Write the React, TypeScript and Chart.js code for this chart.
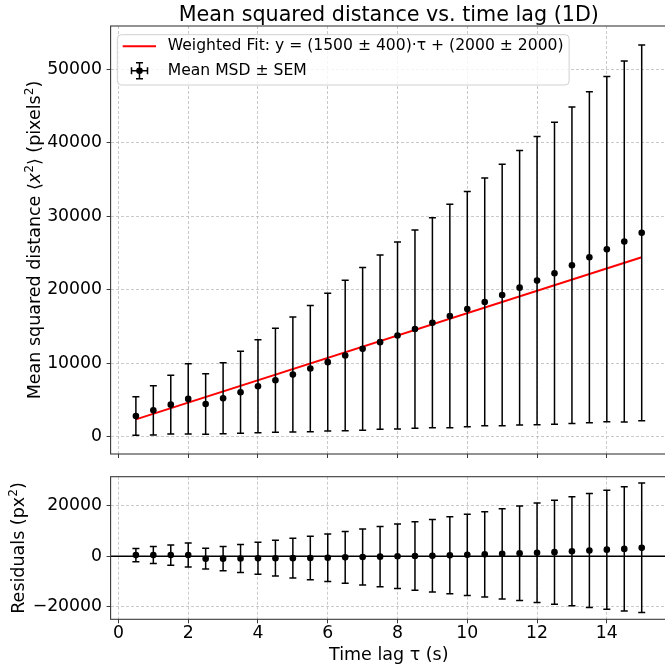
import React, { useEffect, useRef } from "react";
import { Chart, registerables } from "chart.js";

Chart.register(...registerables);

// ---------- data ----------
const tau = [0.5, 1.0, 1.5, 2.0, 2.5, 3.0, 3.5, 4.0, 4.5, 5.0, 5.5, 6.0, 6.5, 7.0, 7.5, 8.0, 8.5, 9.0, 9.5, 10.0, 10.5, 11.0, 11.5, 12.0, 12.5, 13.0, 13.5, 14.0, 14.5, 15.0];
const msdMean = [2820, 3590, 4360, 5140, 4450, 5230, 6050, 6860, 7680, 8450, 9270, 10140, 11050, 11950, 12860, 13770, 14640, 15500, 16410, 17360, 18320, 19270, 20270, 21230, 22230, 23320, 24410, 25500, 26550, 27730];
const msdSem = [2610, 3340, 4000, 4770, 4115, 4820, 5565, 6320, 7065, 7820, 8590, 9365, 10225, 11070, 11840, 12705, 13480, 14270, 15185, 16000, 16845, 17775, 18660, 19590, 20525, 21520, 22500, 23475, 24545, 25545];
const residuals = [460, 470, 480, 500, -950, -930, -870, -820, -760, -750, -690, -580, -430, -290, -140, 10, 120, 220, 370, 560, 760, 950, 1190, 1390, 1630, 1960, 2290, 2620, 2910, 3330];
const fitTau = [0.5, 15.0];
const fitValues = [2360, 24410];

const xTickValues = [0, 2, 4, 6, 8, 10, 12, 14];
const topYTickValues = [0, 10000, 20000, 30000, 40000, 50000];
const bottomYTickValues = [-20000, 0, 20000];

const titleText = "Mean squared distance vs. time lag (1D)";
const fitLabel = "Weighted Fit: y = (1500 \u00b1 400)\u00b7\u03c4 + (2000 \u00b1 2000)";
const dataLabel = "Mean MSD \u00b1 SEM";
const xLabel = "Time lag \u03c4 (s)";

// ---------- styling ----------
const FONT = '"DejaVu Sans", sans-serif';
const TICK_SIZE = 17.3;
const LABEL_SIZE = 17.5;
const TITLE_SIZE = 20.7;
const LEGEND_SIZE = 15.6;
const X_MIN = -0.225;
const X_MAX = 15.725;
const LEFT = 110.6;
const CANVAS_W = 675;
const RIGHT_PAD = CANVAS_W - 667;
const GRID_COLOR = "rgba(176,176,176,0.85)";
const SPINE_COLOR = "#3a3a3a";

type Seg = { t: string; italic?: boolean; sup?: boolean };

function fontFor(size: number, seg: Seg) {
  const s = seg.sup ? size * 0.7 : size;
  return `${seg.italic ? "oblique " : ""}${s}px ${FONT}`;
}

function drawRich(ctx: CanvasRenderingContext2D, segs: Seg[], x: number, y: number, size: number, rotate: boolean) {
  ctx.save();
  let total = 0;
  const widths = segs.map((s) => {
    ctx.font = fontFor(size, s);
    const w = ctx.measureText(s.t).width;
    total += w;
    return w;
  });
  ctx.translate(x, y);
  if (rotate) ctx.rotate(-Math.PI / 2);
  let cx = -total / 2;
  ctx.fillStyle = "#000";
  ctx.textBaseline = "alphabetic";
  ctx.textAlign = "left";
  segs.forEach((s, i) => {
    ctx.font = fontFor(size, s);
    ctx.fillText(s.t, cx, s.sup ? -size * 0.38 : 0);
    cx += widths[i];
  });
  ctx.restore();
}

const fmtTick = (v: number) => (v < 0 ? "\u2212" + Math.abs(v) : String(v));

function zeroPadding(s: any) {
  s.paddingTop = 0;
  s.paddingBottom = 0;
  s.paddingLeft = 0;
  s.paddingRight = 0;
}

function drawErrorBars(chart: any, means: number[], sems: number[]) {
  const { ctx, scales } = chart;
  const x = scales.x;
  const y = scales.y;
  ctx.save();
  ctx.strokeStyle = "#000";
  ctx.lineWidth = 1.5;
  tau.forEach((t, i) => {
    const px = x.getPixelForValue(t);
    const top = y.getPixelForValue(means[i] + sems[i]);
    const bot = y.getPixelForValue(means[i] - sems[i]);
    ctx.beginPath();
    ctx.moveTo(px, top);
    ctx.lineTo(px, bot);
    ctx.moveTo(px - 3.5, top);
    ctx.lineTo(px + 3.5, top);
    ctx.moveTo(px - 3.5, bot);
    ctx.lineTo(px + 3.5, bot);
    ctx.stroke();
  });
  ctx.restore();
}

function drawFrame(chart: any) {
  const { ctx, chartArea: a } = chart;
  ctx.save();
  ctx.strokeStyle = SPINE_COLOR;
  ctx.lineWidth = 1.1;
  ctx.strokeRect(a.left, a.top, a.right - a.left, a.bottom - a.top);
  ctx.restore();
}

function xScaleOpts(showLabels: boolean, height: number) {
  return {
    type: "linear" as const,
    min: X_MIN,
    max: X_MAX,
    afterBuildTicks: (s: any) => {
      s.ticks = xTickValues.map((v) => ({ value: v }));
    },
    afterFit: (s: any) => {
      s.height = height;
      zeroPadding(s);
    },
    ticks: {
      display: showLabels,
      autoSkip: false,
      maxRotation: 0,
      padding: 0,
      color: "#000",
      font: { family: FONT, size: TICK_SIZE },
      callback: (v: any) => fmtTick(Number(v)),
    },
    grid: {
      color: GRID_COLOR,
      lineWidth: 0.8,
      drawTicks: true,
      tickLength: 4,
      tickColor: SPINE_COLOR,
      tickWidth: 1,
    },
    border: { display: false, dash: [3, 2] },
  };
}

function yScaleOpts(min: number, max: number, ticks: number[]) {
  return {
    type: "linear" as const,
    min,
    max,
    afterBuildTicks: (s: any) => {
      s.ticks = ticks.map((v) => ({ value: v }));
    },
    afterFit: (s: any) => {
      s.width = LEFT;
      zeroPadding(s);
    },
    ticks: {
      autoSkip: false,
      padding: 4.5,
      color: "#000",
      font: { family: FONT, size: TICK_SIZE },
      callback: (v: any) => fmtTick(Number(v)),
    },
    grid: {
      color: GRID_COLOR,
      lineWidth: 0.8,
      drawTicks: true,
      tickLength: 4,
      tickColor: SPINE_COLOR,
      tickWidth: 1,
    },
    border: { display: false, dash: [3, 2] },
  };
}

export default function App() {
  const topRef = useRef<HTMLCanvasElement>(null);
  const botRef = useRef<HTMLCanvasElement>(null);

  useEffect(() => {
    const topPlugin = {
      id: "topDecor",
      beforeDatasetDraw(chart: any, args: any) {
        if (args.index === 1) drawErrorBars(chart, msdMean, msdSem);
      },
      afterDraw(chart: any) {
        const { ctx, chartArea: a } = chart;
        drawFrame(chart);
        // title
        ctx.save();
        ctx.font = `${TITLE_SIZE}px ${FONT}`;
        ctx.fillStyle = "#000";
        ctx.textAlign = "center";
        ctx.textBaseline = "alphabetic";
        ctx.fillText(titleText, (a.left + a.right) / 2, 20.7);
        ctx.restore();
        // y label
        drawRich(
          ctx,
          [
            { t: "Mean squared distance \u27e8" },
            { t: "x", italic: true },
            { t: "2", sup: true },
            { t: "\u27e9 (pixels" },
            { t: "2", sup: true },
            { t: ")" },
          ],
          39.5,
          (a.top + a.bottom) / 2,
          LABEL_SIZE,
          true
        );
        // legend
        ctx.save();
        ctx.font = `${LEGEND_SIZE}px ${FONT}`;
        const textX = 167.7;
        const w = Math.max(ctx.measureText(fitLabel).width, ctx.measureText(dataLabel).width);
        const bx = 117.3;
        const by = 34.7;
        const bw = textX + w + 5.5 - bx;
        const bh = 50.3;
        ctx.beginPath();
        (ctx as any).roundRect(bx, by, bw, bh, 4);
        ctx.fillStyle = "rgba(255,255,255,0.8)";
        ctx.fill();
        ctx.strokeStyle = "#d0d0d0";
        ctx.lineWidth = 1;
        ctx.stroke();
        const r1 = 46.3;
        const r2 = 70.7;
        ctx.strokeStyle = "#ff0000";
        ctx.lineWidth = 2;
        ctx.beginPath();
        ctx.moveTo(122.7, r1);
        ctx.lineTo(156, r1);
        ctx.stroke();
        const sx = 139.5;
        ctx.strokeStyle = "#000";
        ctx.lineWidth = 1.5;
        ctx.beginPath();
        ctx.moveTo(sx, r2 - 8);
        ctx.lineTo(sx, r2 + 8);
        ctx.moveTo(sx - 3.5, r2 - 8);
        ctx.lineTo(sx + 3.5, r2 - 8);
        ctx.moveTo(sx - 3.5, r2 + 8);
        ctx.lineTo(sx + 3.5, r2 + 8);
        ctx.moveTo(sx - 8, r2);
        ctx.lineTo(sx + 8, r2);
        ctx.moveTo(sx - 8, r2 - 3.5);
        ctx.lineTo(sx - 8, r2 + 3.5);
        ctx.moveTo(sx + 8, r2 - 3.5);
        ctx.lineTo(sx + 8, r2 + 3.5);
        ctx.stroke();
        ctx.fillStyle = "#000";
        ctx.beginPath();
        ctx.arc(sx, r2, 3.3, 0, Math.PI * 2);
        ctx.fill();
        ctx.fillStyle = "#000";
        ctx.textAlign = "left";
        ctx.textBaseline = "middle";
        ctx.fillText(fitLabel, textX, r1);
        ctx.fillText(dataLabel, textX, r2);
        ctx.restore();
      },
    };

    const botPlugin = {
      id: "botDecor",
      beforeDatasetsDraw(chart: any) {
        const { ctx, chartArea: a, scales } = chart;
        const y0 = scales.y.getPixelForValue(0);
        ctx.save();
        ctx.strokeStyle = "#000";
        ctx.lineWidth = 1.6;
        ctx.beginPath();
        ctx.moveTo(a.left, y0);
        ctx.lineTo(a.right, y0);
        ctx.stroke();
        ctx.restore();
        drawErrorBars(chart, residuals, msdSem);
      },
      afterDraw(chart: any) {
        const { ctx, chartArea: a } = chart;
        drawFrame(chart);
        drawRich(
          ctx,
          [{ t: "Residuals (px" }, { t: "2", sup: true }, { t: ")" }],
          24,
          (a.top + a.bottom) / 2,
          LABEL_SIZE,
          true
        );
        ctx.save();
        ctx.font = `${LABEL_SIZE}px ${FONT}`;
        ctx.fillStyle = "#000";
        ctx.textAlign = "center";
        ctx.textBaseline = "alphabetic";
        ctx.fillText(xLabel, (a.left + a.right) / 2, 200);
        ctx.restore();
      },
    };

    const c1 = new Chart(topRef.current as HTMLCanvasElement, {
      type: "scatter",
      data: {
        datasets: [
          {
            type: "line",
            data: fitTau.map((t, i) => ({ x: t, y: fitValues[i] })),
            borderColor: "#ff0000",
            borderWidth: 2,
            pointRadius: 0,
            fill: false,
            order: 2,
          } as any,
          {
            type: "scatter",
            data: tau.map((t, i) => ({ x: t, y: msdMean[i] })),
            pointRadius: 3.3,
            pointBackgroundColor: "#000",
            pointBorderWidth: 0,
            order: 1,
          } as any,
        ],
      },
      options: {
        responsive: false,
        animation: false,
        devicePixelRatio: 1,
        layout: { padding: { top: 26, left: 0, right: RIGHT_PAD, bottom: 0 } },
        plugins: { legend: { display: false }, tooltip: { enabled: false }, title: { display: false } },
        scales: {
          x: xScaleOpts(false, 6),
          y: yScaleOpts(-2350, 55850, topYTickValues),
        },
      } as any,
      plugins: [topPlugin],
    });

    const c2 = new Chart(botRef.current as HTMLCanvasElement, {
      type: "scatter",
      data: {
        datasets: [
          {
            type: "scatter",
            data: tau.map((t, i) => ({ x: t, y: residuals[i] })),
            pointRadius: 3.3,
            pointBackgroundColor: "#000",
            pointBorderWidth: 0,
          } as any,
        ],
      },
      options: {
        responsive: false,
        animation: false,
        devicePixelRatio: 1,
        layout: { padding: { top: 16.7, left: 0, right: RIGHT_PAD, bottom: 0 } },
        plugins: { legend: { display: false }, tooltip: { enabled: false }, title: { display: false } },
        scales: {
          x: xScaleOpts(true, 49.7),
          y: yScaleOpts(-24870, 31400, bottomYTickValues),
        },
      } as any,
      plugins: [botPlugin],
    });

    return () => {
      c1.destroy();
      c2.destroy();
    };
  }, []);

  return (
    <div
      style={{
        position: "fixed",
        left: 0,
        top: 0,
        width: 665,
        height: 669,
        overflow: "hidden",
        background: "#fff",
      }}
    >
      <canvas
        ref={topRef}
        width={CANVAS_W}
        height={460}
        style={{ position: "absolute", left: 0, top: 0, width: CANVAS_W, height: 460 }}
      />
      <canvas
        ref={botRef}
        width={CANVAS_W}
        height={209}
        style={{ position: "absolute", left: 0, top: 460, width: CANVAS_W, height: 209 }}
      />
    </div>
  );
}
